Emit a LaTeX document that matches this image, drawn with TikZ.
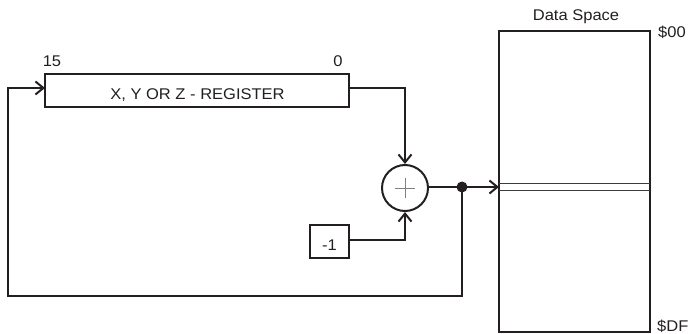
\documentclass[tikz,border=0pt]{standalone}
\usepackage{fontspec}
\setmainfont{Liberation Sans}
\usetikzlibrary{arrows.meta,calc}
\definecolor{ink}{RGB}{35,31,32}
\definecolor{inkb}{RGB}{60,60,60}
\newcommand{\wt}[1]{\scalebox{1.065}[1]{#1}}
\tikzset{
  wire/.style={line width=2pt, draw=ink},
  arr/.style={wire, -{Straight Barb[length=8pt,width=13pt,line width=2pt]}},
  box/.style={draw=ink, line width=2pt, inner sep=0pt},
  lbl/.style={inner sep=0pt, anchor=base, font=\fontsize{15.5}{15.5}\selectfont, text=ink}
}
\begin{document}
\begin{tikzpicture}[x=1pt,y=-1pt]
\useasboundingbox (0,0) rectangle (690,334);
% register
\node[box, minimum width=304pt, minimum height=33pt] (reg) at (197,90.5) {};
\node[lbl] (regt) at (197.5,100) {\wt{X, Y OR Z - REGISTER}};
\node[lbl] (l15) at (52,67) {\wt{15}};
\node[lbl] (l0) at (338,67) {\wt{0}};
% adder
\node[box, circle, minimum size=46pt] (sum) at (405,188) {};
\draw[line width=0.8pt, gray] ($(sum.center)+(-10,0)$) -- ($(sum.center)+(10,0)$);
\draw[line width=0.8pt, gray] ($(sum.center)+(0,-10)$) -- ($(sum.center)+(0,10)$);
% -1
\node[box, minimum width=39pt, minimum height=33pt] (m1) at (329.5,241.5) {};
\node[lbl] (m1t) at (329.5,250) {\wt{-1}};
% data space
\node[box, minimum width=151pt, minimum height=301pt] (mem) at (574.5,181.5) {};
\coordinate (ma) at (499,183.5);
\coordinate (mb) at (650,183.5);
\coordinate (mc) at (499,190.5);
\coordinate (md) at (650,190.5);
\draw[line width=1pt, draw=inkb] (ma) -- (mb);
\draw[line width=1pt, draw=inkb] (mc) -- (md);
\node[lbl] (ds) at (576,21) {\wt{Data Space}};
\node[lbl, anchor=base west] (s00) at (658,38) {\wt{\$00}};
\node[lbl, anchor=base west] (sdf) at (657,331) {\wt{\$DF}};
% connectors
\coordinate (rout) at (349,88);
\coordinate (rin) at (45,88);
\draw[arr] (rout) -| (sum.north);
\draw[arr] (m1.east |- 0,240) -| (sum.south);
\coordinate (jn) at (462,187);
\coordinate (mem_in) at (499,187);
\draw[arr] (sum.east |- jn) -- (mem_in);
\coordinate (fb1) at (462,296);
\coordinate (fb2) at (8,296);
\coordinate (fb3) at (8,88);
\draw[wire] (jn) -- (fb1) -- (fb2) -- (fb3) -- ++(20,0);
\draw[arr] (fb3) -- (rin);
\fill[ink] (jn) circle (5.5pt);
\end{tikzpicture}
\end{document}
